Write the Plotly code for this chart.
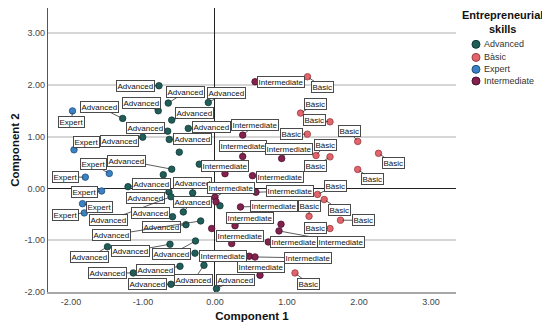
import plotly.graph_objects as go

# ---------------- data ----------------
categories = ["Advanced", "Bàsic", "Expert", "Intermediate"]

adv_x = [-0.778, -0.649, -0.788, -1.282, -0.601, -0.371, -0.657, -1.004, -0.635, -0.496,
         -0.601, -0.718, -0.093, -0.218, -1.208, -0.310, -0.639, -0.611, -0.440, -0.590,
         -0.403, -0.199, 0.069, -1.493, -0.625, -0.271, -0.278, -1.135, -0.486, -0.611,
         -0.153, 0.021]
adv_y = [1.985, 1.650, 1.501, 1.354, 1.321, 1.161, 1.108, 0.992, 0.948, 0.702,
         0.373, 0.267, 1.660, 0.470, 0.035, -0.085, -0.066, -0.159, -0.453, -0.545,
         -0.700, -0.627, -0.333, -1.126, -1.077, -1.014, -1.251, -1.632, -1.503, -1.851,
         -1.484, -1.934]

bas_x = [1.285, 1.188, 1.597, 1.282, 1.982, 1.403, 1.597, 2.271, 1.982, 1.424,
         1.517, 1.306, 1.743, 1.597, 1.111]
bas_y = [2.159, 1.456, 1.288, 1.050, 0.909, 0.638, 0.611, 0.679, 0.368, -0.114,
         -0.213, -0.536, -0.613, -0.774, -1.632]

exp_x = [-1.979, -1.958, -1.468, -1.801, -1.574, -1.840, -1.815]
exp_y = [1.499, 0.747, 0.290, 0.219, -0.048, -0.294, -0.472]

int_x = [0.556, 0.385, 0.385, 0.926, 0.139, 0.521, 0.000, 0.014, 0.569, 0.354,
         0.278, -0.046, 0.232, 0.917, 0.889, 0.740, 0.476, 0.556, 0.625]
int_y = [2.062, 1.031, 0.619, 0.580, 0.286, 0.248, -0.168, -0.255, -0.072, -0.356,
         -0.720, -0.774, -1.064, -0.691, -0.820, -1.033, -1.309, -1.323, -1.677]

x_ticks = [-2, -1, 0, 1, 2, 3]
x_tick_labels = ["-2.00", "-1.00", "0.00", "1.00", "2.00", "3.00"]
y_ticks = [-2, -1, 0, 1, 2, 3]
y_tick_labels = ["-2.00", "-1.00", "0.00", "1.00", "2.00", "3.00"]

legend_title = "Entrepreneurial<br>skills"

# ---------------- label placement (pixel offsets of label boxes) ----------------
adv_off = [(-23, 0), (17, -11), (-17, -8), (-23, -11), (23, -7.5), (23, -1), (-22, -3.5), (-23, 4),
           (23, 0), None, (-45, -8.5), None, (18, -10), None, (23, -3), (0, -10),
           (-23, 6), (-62, 23.5), (9, -10), (-22.5, -3.5), (-24, 2.5), (-89, 14), None, (-17.5, 10.5),
           (-39, 7), (-24, 13.3), None, (-26, 0), (-24, 4), (-23, 0), (-10, 14.5), (18.5, -9)]
bas_off = [(14.5, 10), (15, -9), (-15, -2), (-16, 0), (-8, -10), (9, -10), (-14, 9), (14.5, 10),
           (14.5, 10), (17.5, -8.5), (15, 10), (0, -10), (22.5, 0), (-14, -1), (14, 11)]
exp_off = [(-1, 11), (12, -8), (-16, -9), (-20, 0), (-17, 1), (17, 3), (-19, 2)]
int_off = [(25.5, 0), (12, -10), (0, -10), (7, -9), (0, -8), (27, 1), (16, -9), None,
           (34.5, -1), (33.5, -1), (15, -8), None, (8, -8), None, (62, 11.5), (25.7, 0.5),
           (-26, 0), (53, 1), (1, -8)]

series = [
    ("Advanced", adv_x, adv_y, adv_off, "#1f5e59", "#113a37"),
    ("Bàsic", bas_x, bas_y, bas_off, "#e2656c", "#9a3a40"),
    ("Expert", exp_x, exp_y, exp_off, "#3a82c4", "#1f4f80"),
    ("Intermediate", int_x, int_y, int_off, "#83224f", "#4c0f2d"),
]

FONT = "Liberation Sans, Arial, sans-serif"

fig = go.Figure()
annotations = []
shapes = []
for name, xs, ys, offs, fill, edge in series:
    fig.add_trace(go.Scatter(
        x=xs, y=ys, mode="markers", name=name, showlegend=False,
        marker=dict(size=6.5, color=fill, line=dict(color=edge, width=0.8)),
    ))
    for xv, yv, off in zip(xs, ys, offs):
        if off is None:
            continue
        annotations.append(dict(
            x=xv, y=yv, xref="x", yref="y", text=name,
            showarrow=True, arrowhead=0, arrowwidth=0.8, arrowcolor="#333333",
            ax=off[0], ay=off[1], standoff=2,
            font=dict(family=FONT, size=8, color="#111111"),
            bgcolor="white", bordercolor="#4a4a4a", borderwidth=1, borderpad=0.5,
        ))

# ---------------- legend (drawn in paper coordinates) ----------------
annotations.append(dict(
    x=1.113, y=1.0, xref="paper", yref="paper", xanchor="center", yanchor="top",
    text="<b>" + legend_title + "</b>", showarrow=False, align="center",
    font=dict(family=FONT, size=11, color="#111111"), borderpad=0,
))
leg_y = [0.872, 0.826, 0.784, 0.743]
for (name, xs, ys, offs, fill, edge), ly in zip(series, leg_y):
    shapes.append(dict(
        type="circle", xref="paper", yref="paper",
        xsizemode="pixel", ysizemode="pixel", xanchor=1.049, yanchor=ly,
        x0=-4, x1=4, y0=-4, y1=4,
        fillcolor=fill, line=dict(color=edge, width=1),
    ))
    annotations.append(dict(
        x=1.064, y=ly, xref="paper", yref="paper", xanchor="left", yanchor="middle",
        text=name, showarrow=False,
        font=dict(family=FONT, size=9, color="#333333"),
    ))

fig.update_layout(
    width=542, height=324,
    margin=dict(l=40, r=94, t=0, b=40),
    paper_bgcolor="white", plot_bgcolor="white",
    font=dict(family=FONT, color="#333333"),
    annotations=annotations, shapes=shapes, showlegend=False,
    xaxis=dict(
        range=[-2.319, 3.347], tickvals=x_ticks, ticktext=x_tick_labels,
        showgrid=False, zeroline=True, zerolinecolor="#222222", zerolinewidth=1.3,
        showline=True, linecolor="#a8a8a8", linewidth=2, mirror=False,
        ticks="", tickfont=dict(family=FONT, size=9, color="#444444"),
        title=dict(text="<b>Component 1</b>", font=dict(family=FONT, size=11.5, color="#111111"), standoff=6),
    ),
    yaxis=dict(
        range=[-2.0, 3.487], tickvals=y_ticks, ticktext=y_tick_labels,
        showgrid=True, gridcolor="#d6d6d6", gridwidth=1.5,
        zeroline=True, zerolinecolor="#222222", zerolinewidth=1.3,
        showline=True, linecolor="#555555", linewidth=1.3,
        ticks="", tickfont=dict(family=FONT, size=9, color="#444444"),
        title=dict(text="<b>Component 2</b>", font=dict(family=FONT, size=11.5, color="#111111"), standoff=2),
    ),
)

fig.write_html("out.html")
